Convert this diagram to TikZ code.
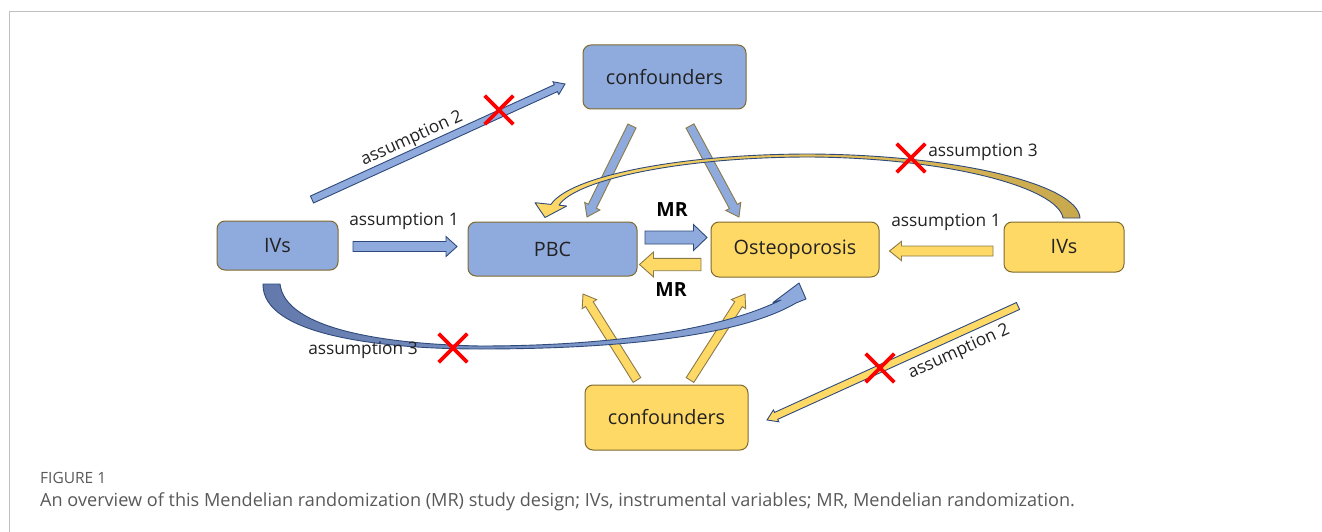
\documentclass[tikz,border=0pt]{standalone}
\usepackage{fontspec}
\setmainfont{Open Sans}
\usetikzlibrary{calc,shapes.misc}
\definecolor{bluefill}{HTML}{8FAADC}
\definecolor{yellowfill}{HTML}{FFD966}
\definecolor{boxline}{HTML}{7F6A2E}
\definecolor{navy}{HTML}{2F4A7A}
\definecolor{olive}{HTML}{8A7A4A}
\definecolor{darkblue}{HTML}{6379AC}
\definecolor{darkgold}{HTML}{C8A84E}
\definecolor{txt}{HTML}{222222}
\definecolor{captxt}{HTML}{595959}
\newcommand\blockarr[6]{%
  \coordinate (ba-n) at ($(#2)!#5!(#1)$);
  \draw[#6] ($(#1)!#3!90:(#2)$) -- ($(ba-n)!#3!90:(#2)$) -- ($(ba-n)!#4!90:(#2)$) -- (#2)
    -- ($(ba-n)!#4!-90:(#2)$) -- ($(ba-n)!#3!-90:(#2)$) -- ($(#1)!#3!-90:(#2)$) -- cycle;
}
\tikzset{
  box/.style={draw=boxline, line width=1pt, rounded corners=8pt, text=txt,
    font=\fontsize{19.8}{22}\selectfont, inner sep=0pt},
  bluebox/.style={box, fill=bluefill},
  yellowbox/.style={box, fill=yellowfill},
  lab/.style={text=txt, font=\fontsize{17.3}{19}\selectfont, inner sep=0pt},
  mrlab/.style={text=black, font=\fontsize{19.5}{22}\selectfont\bfseries, inner sep=0pt},
  barblue/.style={draw=navy, fill=bluefill, line width=0.9pt, line join=miter},
  baryellow/.style={draw=olive, fill=yellowfill, line width=0.9pt, line join=miter},
  barbluebrown/.style={draw=olive, fill=bluefill, line width=0.9pt, line join=miter},
  baryellownavy/.style={draw=navy, fill=yellowfill, line width=0.9pt, line join=miter},
  nocross/.style={cross out, draw=red, line width=3.6pt, minimum size=25pt, inner sep=0pt},
  curvearr/.style={draw=navy, line width=0.9pt, line join=round}
}
\begin{document}
\begin{tikzpicture}[x=1pt,y=-1pt]
\useasboundingbox (0,0) rectangle (1322,532);
\fill[white] (0,0) rectangle (1322,532);
\draw[black!25, line width=1pt] (9.5,532) -- (9.5,11.5) -- (1322,11.5);

% boxes
\node[bluebox, minimum width=163pt, minimum height=64pt] (topconf) at (664.5,77) {confounders};
\node[bluebox, minimum width=121pt, minimum height=49pt] (ivl) at (277.5,245.5) {IVs};
\node[bluebox, minimum width=169pt, minimum height=54pt] (pbc) at (552.5,249) {PBC};
\node[yellowbox, minimum width=168pt, minimum height=55pt] (ost) at (795,249.5) {Osteoporosis};
\node[yellowbox, minimum width=120pt, minimum height=50pt] (ivr) at (1064,247) {IVs};
\node[yellowbox, minimum width=163pt, minimum height=65pt] (botconf) at (666.5,417.5) {confounders};

% arrow end points
\coordinate (a1lt) at (353,246.5); \coordinate (a1lh) at (457,246.5);
\coordinate (a2lt) at (312,199.5); \coordinate (a2lh) at (565,84);
\coordinate (cpt) at (632,126);   \coordinate (cph) at (587,217);
\coordinate (cot) at (690,126);   \coordinate (coh) at (739,217);
\coordinate (mr1t) at (645,237.5); \coordinate (mr1h) at (707,237.5);
\coordinate (mr2t) at (701,264.5); \coordinate (mr2h) at (639.5,264.5);
\coordinate (bpt) at (637,380);   \coordinate (bph) at (583,294);
\coordinate (bot) at (690,380);   \coordinate (boh) at (745,294);
\coordinate (a1rt) at (993,251);  \coordinate (a1rh) at (889.5,251);
\coordinate (a2rt) at (1018,306); \coordinate (a2rh) at (767,420);

\blockarr{a1lt}{a1lh}{5pt}{10pt}{11pt}{barblue}
\blockarr{a2lt}{a2lh}{3.8pt}{7pt}{10pt}{barblue}
\blockarr{cpt}{cph}{4.5pt}{8.5pt}{12pt}{barbluebrown}
\blockarr{cot}{coh}{4.5pt}{8.5pt}{12pt}{barbluebrown}
\blockarr{mr1t}{mr1h}{6.5pt}{13pt}{13.5pt}{barblue}
\blockarr{mr2t}{mr2h}{6.2pt}{12.5pt}{14pt}{baryellow}
\blockarr{bpt}{bph}{4.5pt}{8.5pt}{12pt}{baryellow}
\blockarr{bot}{boh}{4.5pt}{8.5pt}{12pt}{baryellow}
\blockarr{a1rt}{a1rh}{5pt}{9.7pt}{12pt}{baryellow}
\blockarr{a2rt}{a2rh}{3.8pt}{6.5pt}{10pt}{baryellownavy}

% top curved arrow (right IVs -> PBC)
\draw[curvearr, left color=yellowfill, middle color=yellowfill, right color=darkgold]
  (1080,218) .. controls (1078,185) and (960,155) .. (810,154)
  .. controls (680,154) and (570,176) .. (551,204.4)
  -- (535,202.7) -- (545,217.5) -- (566.7,206) -- (559,205.2)
  .. controls (575,180) and (680,157) .. (810,157)
  .. controls (950,158) and (1058,188) .. (1063,218) -- cycle;

% bottom curved arrow (left IVs -> Osteoporosis)
\draw[curvearr, left color=darkblue, right color=bluefill]
  (263,284) -- (280,284)
  .. controls (285,328) and (380,344) .. (480,346)
  .. controls (610,346) and (720,330) .. (781,300)
  -- (773,302.5) -- (799,283) -- (806,299) -- (796,303)
  .. controls (740,336) and (620,349) .. (480,349)
  .. controls (380,349) and (262,335) .. (263,284) -- cycle;

% labels
\node[lab] (l1l) at (404,221) {assumption 1};
\node[lab] (l1r) at (946,222) {assumption 1};
\node[lab, rotate=24.4] (l2l) at (412,139) {assumption 2};
\node[lab, rotate=24.5] (l2r) at (959,352) {assumption 2};
\node[lab] (l3r) at (983,152) {assumption 3};
\node[lab] (l3l) at (363,350) {assumption 3};
\node[mrlab] (mrtop) at (672,210) {MR};
\node[mrlab] (mrbot) at (671,290) {MR};

% crosses
\node[nocross] (x1) at (499,110) {};
\node[nocross] (x2) at (911,158) {};
\node[nocross] (x3) at (453,348) {};
\node[nocross] (x4) at (880,368) {};

% caption
\node[anchor=west, text=captxt, font=\fontsize{15.5}{17}\selectfont, inner sep=0pt] (fig) at (40,478) {FIGURE 1};
\node[anchor=west, text=captxt, font=\fontsize{18.1}{21}\selectfont, inner sep=0pt] (cap) at (40,502)
  {An overview of this Mendelian randomization (MR) study design; IVs, instrumental variables; MR, Mendelian randomization.};
\end{tikzpicture}
\end{document}
